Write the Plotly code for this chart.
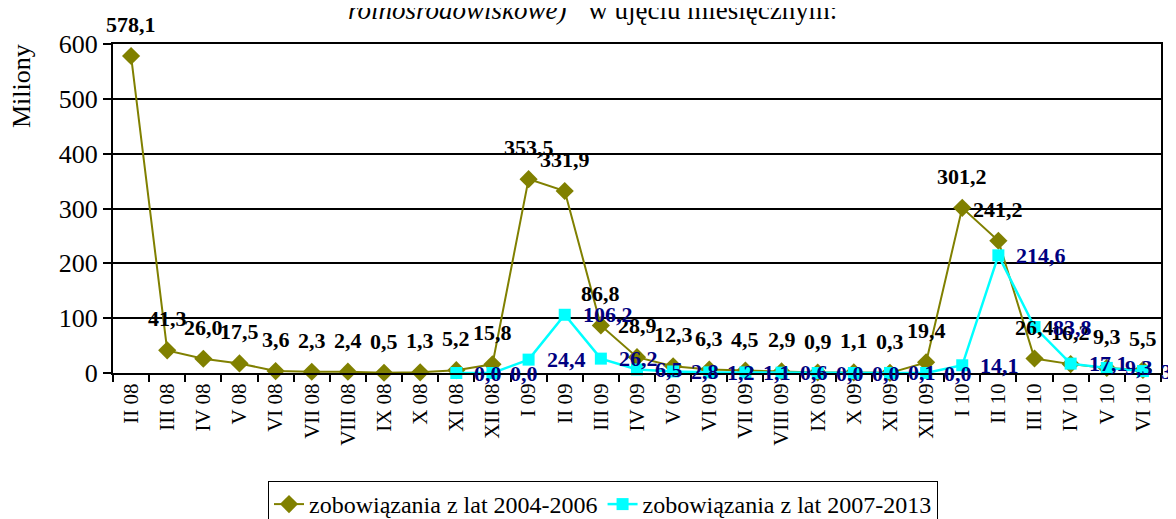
import plotly.graph_objects as go

categories = ["II 08", "III 08", "IV 08", "V 08", "VI 08", "VII 08", "VIII 08", "IX 08", "X 08",
              "XI 08", "XII 08", "I 09", "II 09", "III 09", "IV 09", "V 09", "VI 09", "VII 09",
              "VIII 09", "IX 09", "X 09", "XI 09", "XII 09", "I 10", "II 10", "III 10", "IV 10",
              "V 10", "VI 10"]

s2004 = [578.1, 41.3, 26.0, 17.5, 3.6, 2.3, 2.4, 0.5, 1.3, 5.2, 15.8, 353.5, 331.9, 86.8, 28.9,
         12.3, 6.3, 4.5, 2.9, 0.9, 1.1, 0.3, 19.4, 301.2, 241.2, 26.4, 16.2, 9.3, 5.5]

cat2007 = categories[9:]
s2007 = [0.0, 0.0, 24.4, 106.2, 26.2, 6.5, 2.8, 1.2, 1.1, 0.6, 0.0, 0.0, 0.1, 0.0, 14.1, 214.6,
         83.8, 17.1, 9.3, 3.5]

name1 = "zobowiązania z lat 2004-2006"
name2 = "zobowiązania z lat 2007-2013"
yticks = [0, 100, 200, 300, 400, 500, 600]

FONT = "Liberation Serif"

# page body has an 8px margin, so the figure is sized/placed to compensate
W, H = 1168, 511
L, R, T, B = 105, 15, 36, 146
PW = W - L - R
PH = H - T - B


def fmt(v):
    return f"{v:.1f}".replace(".", ",")


fig = go.Figure()
fig.add_trace(go.Scatter(
    x=categories, y=s2004, name=name1, mode="lines+markers",
    line=dict(color="#808000", width=2),
    marker=dict(symbol="diamond", size=14, color="#808000"),
    cliponaxis=False,
))
fig.add_trace(go.Scatter(
    x=cat2007, y=s2007, name=name2, mode="lines+markers",
    line=dict(color="#00FFFF", width=2.5),
    marker=dict(symbol="square", size=12, color="#00FFFF"),
    cliponaxis=False,
))

for c, v in zip(categories, s2004):
    fig.add_annotation(
        x=c, y=v, xref="x", yref="y", text=fmt(v), showarrow=False,
        xanchor="center", yanchor="bottom", yshift=17,
        font=dict(family=FONT, size=22, color="black", weight="bold"),
    )
for c, v in zip(cat2007, s2007):
    fig.add_annotation(
        x=c, y=v, xref="x", yref="y", text=fmt(v), showarrow=False,
        xanchor="left", yanchor="middle", xshift=16,
        font=dict(family=FONT, size=22, color="#000080", weight="bold"),
    )

fig.update_layout(
    width=W, height=H,
    margin=dict(l=L, r=R, t=T, b=B, autoexpand=False),
    paper_bgcolor="white", plot_bgcolor="white",
    font=dict(family=FONT, color="black"),
    showlegend=True,
    legend=dict(orientation="h", x=(595 - L) / PW, xanchor="center",
                yref="container", y=(H - 473) / H, yanchor="top",
                bordercolor="black", borderwidth=1, font=dict(size=24, family=FONT),
                tracegroupgap=0),
)
fig.update_xaxes(
    type="category", categoryorder="array", categoryarray=categories, automargin=False,
    showline=True, linecolor="black", linewidth=2, mirror=True,
    ticks="outside", tickson="boundaries", ticklen=7, tickcolor="black", tickwidth=1.5,
    tickangle=-90, tickfont=dict(size=21, family=FONT, color="black"),
    showgrid=False, range=[-0.5, len(categories) - 0.5],
)
fig.update_yaxes(
    range=[0, 600], tickvals=yticks, ticktext=[str(v) for v in yticks], automargin=False,
    showline=True, linecolor="black", linewidth=2, mirror=True,
    ticks="outside", ticklen=8, tickcolor="black", tickwidth=1.5,
    tickfont=dict(size=26, family=FONT, color="black"),
    showgrid=True, gridcolor="black", gridwidth=2, zeroline=False,
)

fig.add_annotation(
    text="Miliony", textangle=-90, xref="paper", yref="paper",
    x=(14 - L) / PW, y=(H - B - 78) / PH, xanchor="center", yanchor="middle",
    showarrow=False, font=dict(size=26, family=FONT, color="black"),
)
fig.add_annotation(
    text="<i>rolnośrodowiskowe)”</i> w ujęciu miesięcznym:", xref="paper", yref="paper",
    x=(584 - L) / PW, y=(H - B - 19) / PH, xanchor="center", yanchor="bottom",
    showarrow=False, font=dict(size=27, family=FONT, color="black"),
)

fig.write_html("out.html")
